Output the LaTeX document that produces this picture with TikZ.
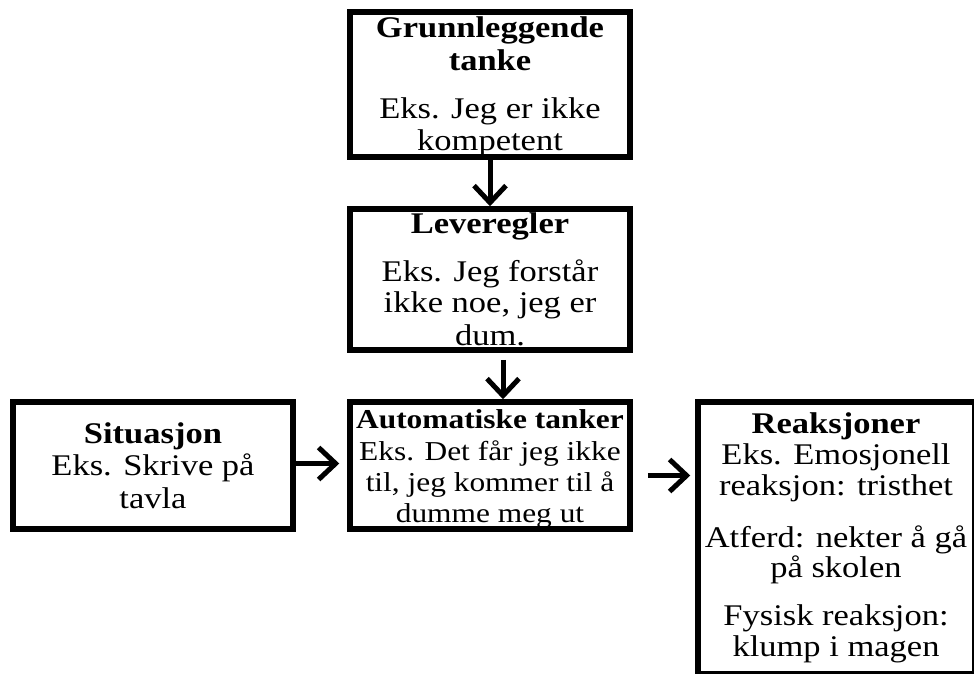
\documentclass[tikz,border=0pt]{standalone}
\usepackage{fontspec}
\setmainfont{Liberation Serif}[FakeStretch=1.15]
\usetikzlibrary{arrows.meta,calc}
\begin{document}
\begin{tikzpicture}[x=1pt,y=-1pt,
  box/.style={draw=black, line width=5.5pt, inner sep=0pt, minimum width=280pt},
  tx/.style={inner sep=0pt, anchor=base, font=\fontsize{30}{30}\selectfont},
  tb/.style={tx, font=\fontsize{30}{30}\selectfont\bfseries},
  sx/.style={inner sep=0pt, anchor=base, font=\fontsize{27.3}{28}\selectfont},
  sb/.style={sx, font=\fontsize{27.3}{28}\selectfont\bfseries},
  arr/.style={line width=5pt, -{Straight Barb[length=17pt,width=32pt,line width=5pt]}}]
\useasboundingbox (0,0) rectangle (974,673);
\clip (0,0) rectangle (974,673);
% boxes
\node[box, minimum height=145pt] (b1) at (490,84.5) {};
\node[box, minimum height=141pt] (b2) at (490,279.5) {};
\node[box, minimum height=127pt] (b3) at (490,465.5) {};
\node[box, minimum height=127pt] (s) at (153,465.5) {};
\node[box, minimum width=277pt, minimum height=272pt] (r) at (836.5,538) {};
% box 1 text
\node[tb] (b1t1) at (490,37) {Grunnleggende};
\node[tb] (b1t2) at (490,70) {tanke};
\node[tx] (b1t3) at (490,118) {Eks. Jeg er ikke};
\node[tx] (b1t4) at (490,150) {kompetent};
% box 2 text
\node[tb] (b2t1) at (490,233) {Leveregler};
\node[tx] (b2t2) at (490,281) {Eks. Jeg forstår};
\node[tx] (b2t3) at (490,312) {ikke noe, jeg er};
\node[tx] (b2t4) at (490,345) {dum.};
% box 3 text
\node[sb] (b3t1) at (490,428) {Automatiske tanker};
\node[sx] (b3t2) at (490,460) {Eks. Det får jeg ikke};
\node[sx] (b3t3) at (490,491) {til, jeg kommer til å};
\node[sx] (b3t4) at (490,522) {dumme meg ut};
% situasjon text
\node[tb] (st1) at (153,443) {Situasjon};
\node[tx] (st2) at (153,475) {Eks. Skrive på};
\node[tx] (st3) at (153,508) {tavla};
% reaksjoner text
\node[tb] (rt1) at (836,433) {Reaksjoner};
\node[tx] (rt2) at (836,464) {Eks. Emosjonell};
\node[tx] (rt3) at (836,495) {reaksjon: tristhet};
\node[tx] (rt4) at (836,547) {Atferd: nekter å gå};
\node[tx] (rt5) at (836,577) {på skolen};
\node[tx] (rt6) at (836,625) {Fysisk reaksjon:};
\node[tx] (rt7) at (836,656) {klump i magen};
% arrows
\draw[arr] (b1.south) -- (b2.north);
\draw[arr] ($(b2.south)+(13,7)$) -- ($(b3.north)+(13,0)$);
\draw[arr] ($(s.east)+(0,-2)$) -- ($(b3.west)+(-8,-2)$);
\draw[arr] ($(b3.east)+(15,10)$) -- ($(r.west |- b3.east)+(-5,10)$);
\end{tikzpicture}
\end{document}
